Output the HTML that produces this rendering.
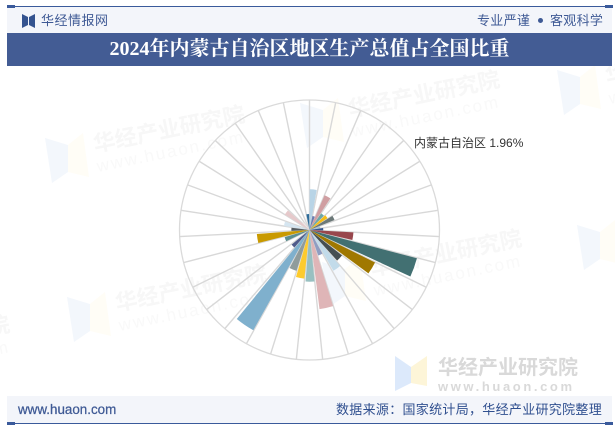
<!DOCTYPE html>
<html lang="zh">
<head>
<meta charset="utf-8">
<title>2024年内蒙古自治区地区生产总值占全国比重</title>
<style>
html,body{margin:0;padding:0;background:#fff}
#page{position:relative;width:615px;height:427px;overflow:hidden;background:#fff;font-family:"Liberation Sans","Noto Sans CJK SC",sans-serif}
#page div,#page span{position:absolute;white-space:nowrap}
svg{position:absolute;left:0;top:0}
</style>
</head>
<body>
<div id="page">
<svg id="chart" width="615" height="427" viewBox="0 0 615 427" xmlns="http://www.w3.org/2000/svg">
  <defs>
    <g id="wm">
      <polygon points="0,0 23,7 23,34 7,45" fill="#f3f7fc"/>
      <polygon points="23,7 38,-5 44,39 23,34" fill="#fffdf6"/>
      <text x="50" y="14" transform="rotate(-11.5 50 14)" font-size="22" font-weight="700" fill="#f7f7f7" font-family="'Liberation Sans','Noto Sans CJK SC',sans-serif">华经产业研究院</text>
      <text x="53" y="34" transform="rotate(-11.5 53 34)" font-size="17" fill="#f9f9f9" letter-spacing="2" font-family="'Liberation Sans',sans-serif">www.huaon.com</text>
    </g>
  </defs>
  <g>
    <use href="#wm" x="45" y="138"/>
    <use href="#wm" x="300" y="103"/>
    <use href="#wm" x="557" y="70"/>
    <use href="#wm" x="67" y="297"/>
    <use href="#wm" x="322" y="262"/>
    <use href="#wm" x="577" y="225"/>
    <use href="#wm" x="-190" y="348"/>
  </g>
  <g id="grid"></g>
  <g id="bars"></g>
  <text x="414" y="147" font-size="12" fill="#333" font-family="'Liberation Sans','Noto Sans CJK SC',sans-serif">内蒙古自治区 1.96%</text>
  <g>
    <polygon points="395,356 411,367 411,383 395,391" fill="#dce9fb"/>
    <polygon points="411,367 427,356 427,386 411,383" fill="#fdf5d8"/>
    <text x="438" y="374" font-size="20" font-weight="700" fill="#d9d9d9" font-family="'Liberation Sans','Noto Sans CJK SC',sans-serif">华经产业研究院</text>
    <text x="438" y="391" font-size="13" font-weight="700" fill="#d9d9d9" letter-spacing="2.6" font-family="'Liberation Sans',sans-serif">www.huaon.com</text>
  </g>
</svg>

<div style="left:7px;top:7px;width:605px;height:26px;background:#f3f5fa"></div>
<div style="left:7px;top:6px;width:605px;height:1.3px;background:#3a5a9b"></div>
<div style="left:7px;top:5px;width:8px;height:3px;background:#3a5a9b"></div>
<div style="left:605px;top:5px;width:8px;height:3px;background:#3a5a9b"></div>
<svg width="615" height="40" style="left:0;top:0"><polygon points="22,14 28,17 28,25 22,28" fill="#34538f"/><polygon points="29,17 35,14 35,28 29,25" fill="#34538f"/></svg>
<div style="left:41px;top:12px;font-size:13px;letter-spacing:.5px;line-height:17px;color:#3f5a95">华经情报网</div>
<div style="left:477px;top:12px;font-size:13px;line-height:17px;letter-spacing:.3px;color:#3f5a95">专业严谨</div>
<div style="left:538px;top:18px;width:5px;height:5px;border-radius:50%;background:#3f5a95"></div>
<div style="left:550px;top:12px;font-size:13px;line-height:17px;letter-spacing:.3px;color:#3f5a95">客观科学</div>

<div style="left:7px;top:33px;width:605px;height:33px;background:#435c94"></div>
<div style="left:7px;top:33px;width:605px;height:33px;line-height:33px;text-align:center;color:#fff;font-size:20px;font-weight:700;font-family:'Liberation Serif','Noto Serif CJK SC',serif">2024年内蒙古自治区地区生产总值占全国比重</div>

<div style="left:7px;top:396px;width:605px;height:27px;background:#f3f5fa"></div>
<div style="left:7px;top:423px;width:605px;height:1.3px;background:#3a5a9b"></div>
<div style="left:7px;top:422px;width:8px;height:3px;background:#3a5a9b"></div>
<div style="left:605px;top:422px;width:8px;height:3px;background:#3a5a9b"></div>
<div style="left:18px;top:401px;font-size:13.4px;line-height:17px;-webkit-text-stroke:.25px #3f5a95;color:#3f5a95">www.huaon.com</div>
<div style="left:336px;top:401px;font-size:13px;line-height:17px;letter-spacing:.3px;color:#2f4f8f">数据来源：国家统计局，华经产业研究院整理</div>
</div>

<script>
const categories = ["北京","天津","河北","山西","内蒙古","辽宁","吉林","黑龙江","上海","江苏","浙江","安徽","福建","江西","山东","河南","湖北","湖南","广东","广西","海南","重庆","四川","贵州","云南","西藏","陕西","甘肃","青海","宁夏","新疆"];
const shareValues = [3.7,1.3,3.45,1.85,1.96,2.45,1.0,1.25,4.0,10.1,6.65,3.75,4.3,2.45,7.25,4.7,4.45,3.9,10.45,2.1,0.6,2.35,4.8,1.65,2.35,0.2,2.65,0.9,0.3,0.4,1.45];
const barColors = ["#b8d4e6","#6a7db0","#d09fa2","#6ea7a6","#f6bd16","#6b7878","#a9c4d6","#34558e","#98474d","#427072","#a07800","#454f52","#c2dbea","#8e9dc2","#dfb5b7","#98c0c1","#fdcb2e","#8f9c9c","#7fb0cd","#4f5a8a","#c7d6c6","#5c8f8f","#c99a00","#555c60","#d5e5f0","#e9d4d5","#e6c9cb","#f0e4e4","#d8d8d8","#dddddd","#2e6c9a"];

const NS = "http://www.w3.org/2000/svg";
const cx = 309.5, cy = 230, outerR = 130, axisMax = 11.82;
const step = 360 / categories.length;
const rScale = v => v / axisMax * outerR;
const angleOf = i => i * step;
const pt = (deg, r) => {
  const a = deg * Math.PI / 180;
  return [cx + r * Math.sin(a), cy - r * Math.cos(a)];
};

const grid = document.getElementById("grid");
const ring = document.createElementNS(NS, "circle");
ring.setAttribute("cx", cx);
ring.setAttribute("cy", cy);
ring.setAttribute("r", outerR);
ring.setAttribute("fill", "none");
ring.setAttribute("stroke", "#dadada");
ring.setAttribute("stroke-width", "1.3");


grid.appendChild(ring);

categories.forEach((c, i) => {
  const [x, y] = pt(angleOf(i), outerR);
  const l = document.createElementNS(NS, "line");
  l.setAttribute("x1", cx);
  l.setAttribute("y1", cy);
  l.setAttribute("x2", x);
  l.setAttribute("y2", y);
  l.setAttribute("stroke", "#d8d8d8");
  l.setAttribute("stroke-width", "1.4");
  
  
  grid.appendChild(l);
});

const bars = document.getElementById("bars");
shareValues.forEach((v, i) => {
  const a0 = angleOf(i) + step * 0.02;
  const a1 = a0 + step * 0.86;
  const r = rScale(v);
  const [x0, y0] = pt(a0, r);
  const [x1, y1] = pt(a1, r);
  const p = document.createElementNS(NS, "path");
  p.setAttribute("d", `M${cx} ${cy}L${x0} ${y0}A${r} ${r} 0 0 1 ${x1} ${y1}Z`);
  p.setAttribute("fill", barColors[i]);
  
  
  bars.appendChild(p);
});
</script>
</body>
</html>
